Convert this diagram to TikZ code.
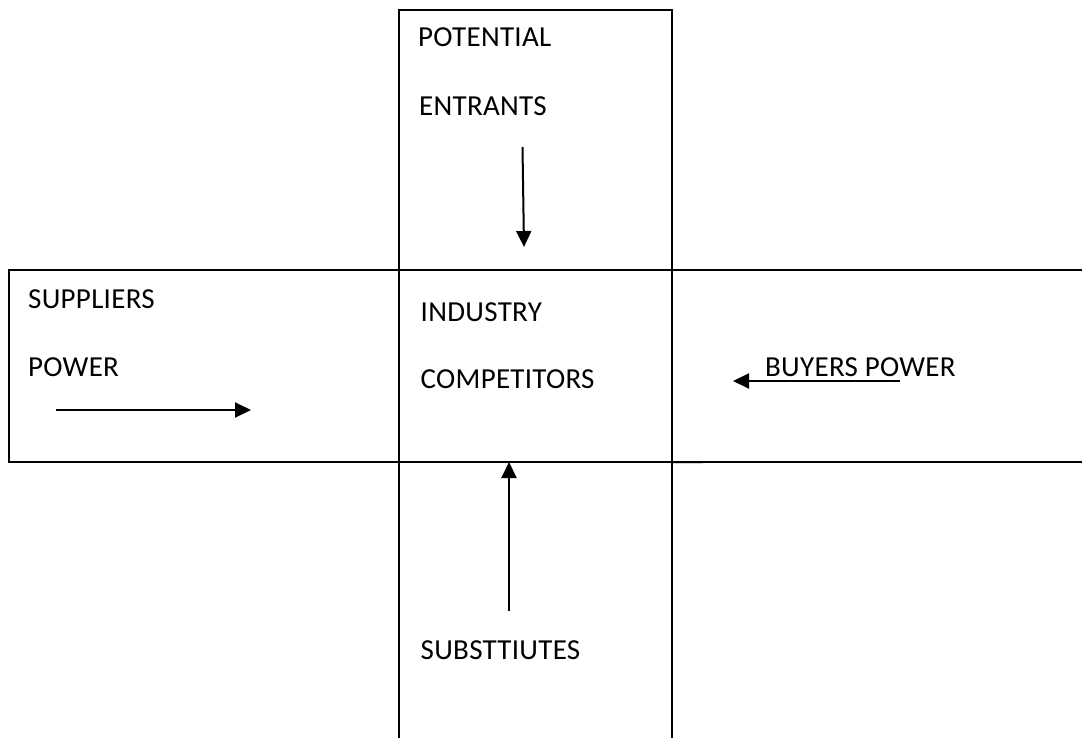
\documentclass[tikz,border=0pt]{standalone}
\usepackage{fontspec}
\setmainfont{Carlito}[LetterSpace=1]
\usetikzlibrary{arrows.meta}
\begin{document}
\begin{tikzpicture}[x=1pt,y=-1pt,
  boxline/.style={line width=2.2pt,line cap=rect},
  forcearrow/.style={line width=2pt,-{Triangle[length=16pt,width=15pt]}},
  label/.style={anchor=base west,inner sep=0pt,font=\fontsize{29}{31}\selectfont}]
\useasboundingbox (0,0) rectangle (1082,738);
% vertical box (open at bottom)
\draw[boxline] (399,745) -- (399,10) -- (672,10) -- (672,745);
% horizontal box (open at right)
\draw[boxline] (1090,270) -- (9,270) -- (9,462) -- (1090,462);
\draw[line width=1pt,gray!35] (673,463.5) -- (703,463.5);
% texts
\node[label] (pot) at (418,47) {POTENTIAL};
\node[label] (ent) at (419,116) {ENTRANTS};
\node[label] (sup) at (28,308.3) {SUPPLIERS};
\node[label] (pow) at (28,376.7) {POWER};
\node[label] (ind) at (420.5,321.7) {INDUSTRY};
\node[label] (com) at (420.5,388.3) {COMPETITORS};
\node[label] (buy) at (765,376.7) {BUYERS POWER};
\node[label] (sub) at (420.5,659.3) {SUBSTTIUTES};
% arrow end points
\coordinate (a1s) at (522.5,147);
\coordinate (a1e) at (524,247);
\coordinate (a2s) at (509,611);
\coordinate (a2e) at (509,462);
\coordinate (a3s) at (56,410);
\coordinate (a3e) at (251,410);
\coordinate (a4s) at (900,381);
\coordinate (a4e) at (733,381);
\draw[forcearrow] (a1s) -- (a1e);
\draw[forcearrow] (a2s) -- (a2e);
\draw[forcearrow] (a3s) -- (a3e);
\draw[forcearrow] (a4s) -- (a4e);
\end{tikzpicture}
\end{document}
